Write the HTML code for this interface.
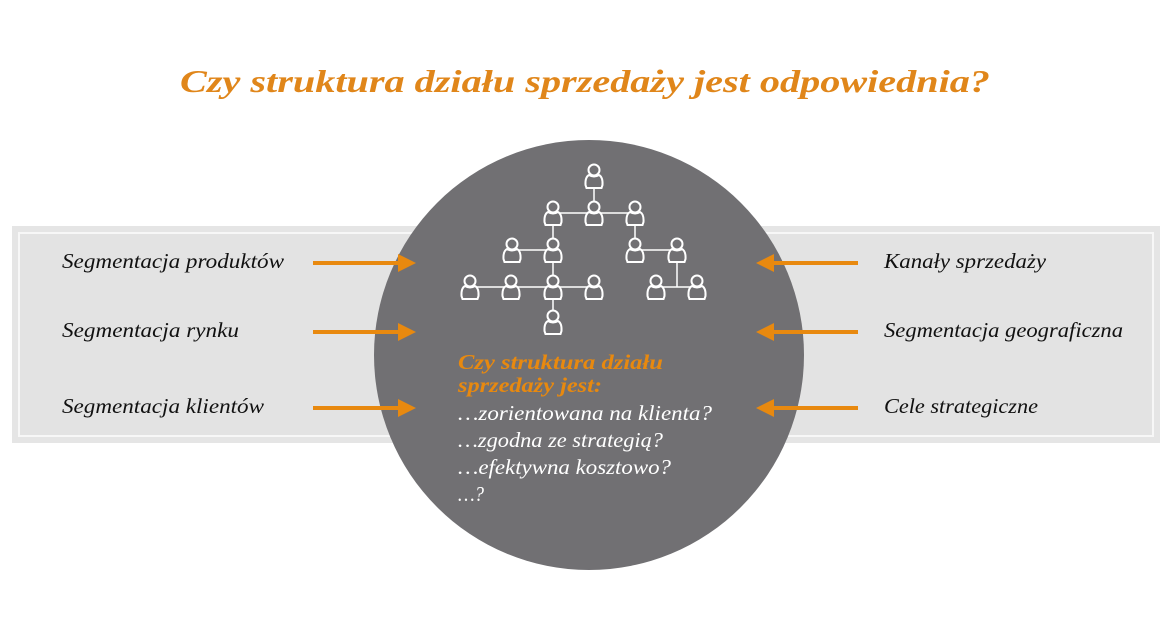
<!DOCTYPE html>
<html><head><meta charset="utf-8"><style>
body{margin:0;width:1172px;height:635px;background:#fff;overflow:hidden;font-family:"Liberation Serif",serif;}
</style></head><body>
<svg width="1172" height="635" xmlns="http://www.w3.org/2000/svg" font-family="Liberation Serif, serif">
<defs>
<g id="p" fill="none" stroke="#fff" stroke-width="2">
<circle cx="0" cy="-6" r="5.5" fill="#717073"/>
<path d="M-5,-1 Q-9,1 -8.5,9 L-7.5,12 L7.5,12 L8.5,9 Q9,1 5,-1 Q0,2 -5,-1Z" fill="#717073"/>
</g>
</defs>
<rect x="12" y="226" width="1148" height="217" fill="#e5e5e5"/>
<rect x="19" y="233" width="1134" height="203" fill="#e3e3e3" stroke="#f7f7f7" stroke-width="2"/>
<text x="180" y="92" textLength="810" lengthAdjust="spacingAndGlyphs" font-size="32" font-weight="bold" font-style="italic" fill="#e0861a">Czy struktura działu sprzedaży jest odpowiednia?</text>
<g font-size="21" font-style="italic" fill="#111">
<text x="62" y="268" textLength="222" lengthAdjust="spacingAndGlyphs">Segmentacja produktów</text>
<text x="62" y="337" textLength="177" lengthAdjust="spacingAndGlyphs">Segmentacja rynku</text>
<text x="62" y="413" textLength="202" lengthAdjust="spacingAndGlyphs">Segmentacja klientów</text>
<text x="884" y="268" textLength="162" lengthAdjust="spacingAndGlyphs">Kanały sprzedaży</text>
<text x="884" y="337" textLength="239" lengthAdjust="spacingAndGlyphs">Segmentacja geograficzna</text>
<text x="884" y="413" textLength="154" lengthAdjust="spacingAndGlyphs">Cele strategiczne</text>
</g>
<circle cx="589" cy="355" r="215" fill="#717073"/>
<g stroke="#e8890f" stroke-width="4" fill="#e8890f">
<line x1="313" y1="263" x2="402" y2="263"/><polygon points="416,263 398,254 398,272" stroke="none"/>
<line x1="313" y1="332" x2="402" y2="332"/><polygon points="416,332 398,323 398,341" stroke="none"/>
<line x1="313" y1="408" x2="402" y2="408"/><polygon points="416,408 398,399 398,417" stroke="none"/>
<line x1="858" y1="263" x2="770" y2="263"/><polygon points="756,263 774,254 774,272" stroke="none"/>
<line x1="858" y1="332" x2="770" y2="332"/><polygon points="756,332 774,323 774,341" stroke="none"/>
<line x1="858" y1="408" x2="770" y2="408"/><polygon points="756,408 774,399 774,417" stroke="none"/>
</g>
<g stroke="#fff" stroke-width="1.5">
<line x1="594" y1="180" x2="594" y2="210"/>
<line x1="553" y1="213" x2="635" y2="213"/>
<line x1="553" y1="213" x2="553" y2="320"/>
<line x1="635" y1="213" x2="635" y2="250"/>
<line x1="512" y1="250" x2="553" y2="250"/>
<line x1="635" y1="250" x2="677" y2="250"/>
<line x1="470" y1="287" x2="594" y2="287"/>
<line x1="677" y1="250" x2="677" y2="287"/>
<line x1="656" y1="287" x2="697" y2="287"/>
</g>
<use href="#p" x="594" y="176"/>
<use href="#p" x="553" y="213"/><use href="#p" x="594" y="213"/><use href="#p" x="635" y="213"/>
<use href="#p" x="512" y="250"/><use href="#p" x="553" y="250"/><use href="#p" x="635" y="250"/><use href="#p" x="677" y="250"/>
<use href="#p" x="470" y="287"/><use href="#p" x="511" y="287"/><use href="#p" x="553" y="287"/><use href="#p" x="594" y="287"/><use href="#p" x="656" y="287"/><use href="#p" x="697" y="287"/>
<use href="#p" x="553" y="322"/>
<g font-size="21" font-style="italic">
<text x="458" y="369" fill="#e8890f" font-weight="bold" textLength="205" lengthAdjust="spacingAndGlyphs">Czy struktura działu</text>
<text x="458" y="392" fill="#e8890f" font-weight="bold" textLength="144" lengthAdjust="spacingAndGlyphs">sprzedaży jest:</text>
<text x="458" y="420" fill="#fff" textLength="254" lengthAdjust="spacingAndGlyphs">…zorientowana na klienta?</text>
<text x="458" y="447" fill="#fff" textLength="205" lengthAdjust="spacingAndGlyphs">…zgodna ze strategią?</text>
<text x="458" y="474" fill="#fff" textLength="213" lengthAdjust="spacingAndGlyphs">…efektywna kosztowo?</text>
<text x="458" y="501" fill="#fff" textLength="26" lengthAdjust="spacingAndGlyphs">…?</text>
</g>
</svg>
</body></html>
